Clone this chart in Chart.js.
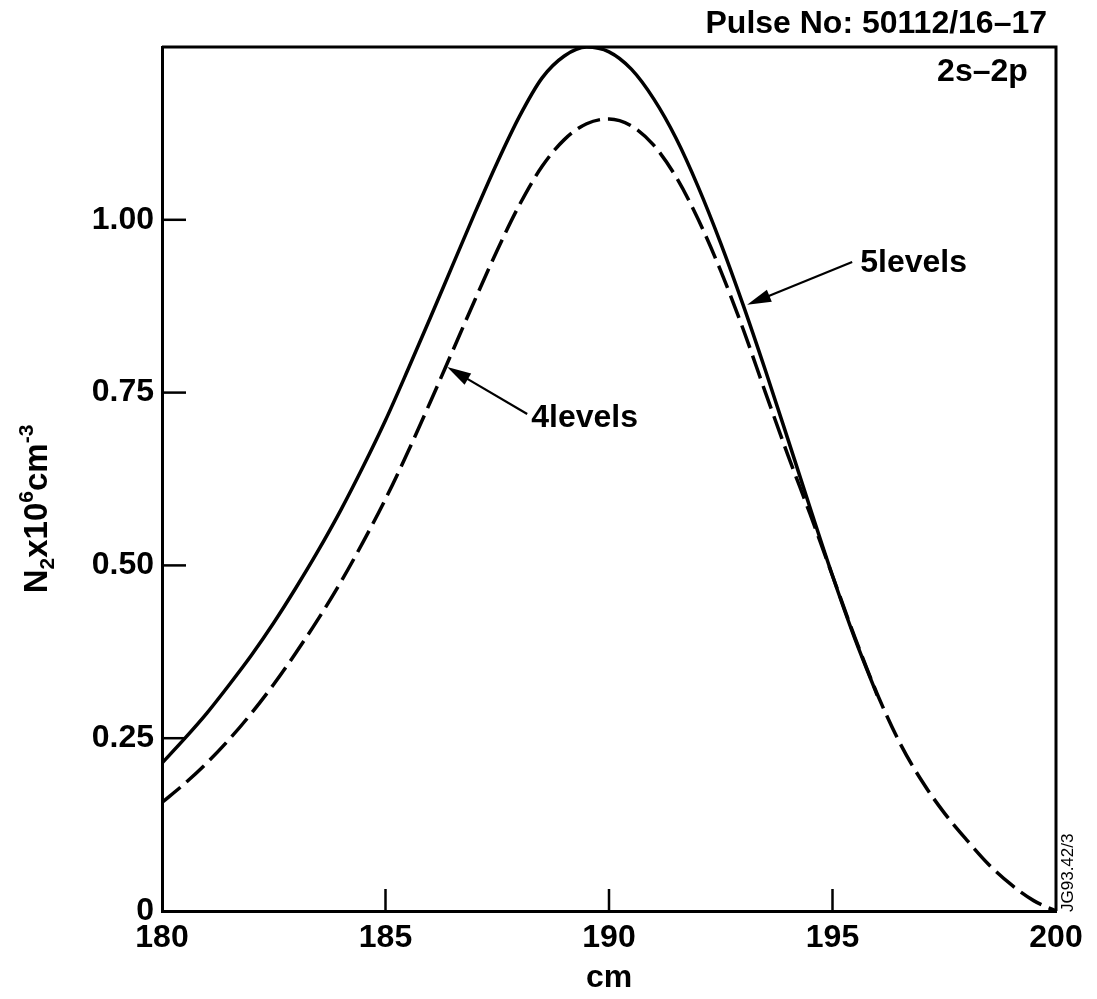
<html>
<head>
  <title>N2 density profile - 2s-2p</title>
  <script src="https://cdn.jsdelivr.net/npm/chart.js"></script>
  <style>
    body { margin: 0; background: #fff; }
    #wrap { width: 1097px; height: 999px; }
  </style>
</head>
<body>
  <div id="wrap"><canvas id="profileChart" width="1097" height="999"></canvas></div>
  <script>
    // radius (cm) and N2 density (10^6 cm^-3)
    const positions = [180, 180.5, 181, 181.5, 182, 182.5, 183, 183.5, 184, 184.5, 185, 185.5, 186, 186.5,
      187, 187.5, 188, 188.5, 189, 189.5, 190, 190.5, 191, 191.5, 192, 192.5, 193, 193.5, 194, 194.5,
      195, 195.5, 196, 196.5, 197, 197.5, 198, 198.5, 199, 199.5, 200];
    // the solid curve is hidden under the dashed one past 196 cm
    const fiveLevels = [0.214, 0.249, 0.286, 0.327, 0.370, 0.417, 0.468, 0.522, 0.580, 0.643, 0.710, 0.783, 0.858, 0.934,
      1.010, 1.083, 1.150, 1.205, 1.237, 1.250, 1.243, 1.218, 1.175, 1.118, 1.047, 0.966, 0.877, 0.782, 0.683, 0.583,
      0.485, 0.394, 0.312, null, null, null, null, null, null, null, null];
    const fourLevels = [0.157, 0.184, 0.214, 0.248, 0.286, 0.328, 0.374, 0.423, 0.476, 0.534, 0.596, 0.664, 0.736, 0.810,
      0.884, 0.956, 1.022, 1.077, 1.116, 1.139, 1.146, 1.136, 1.108, 1.062, 1.000, 0.926, 0.842, 0.750, 0.660, 0.574,
      0.485, 0.396, 0.314, 0.244, 0.188, 0.142, 0.103, 0.067, 0.038, 0.015, 0.0];
    const xTicks = [180, 185, 190, 195, 200];
    const yTicks = [0, 0.25, 0.5, 0.75, 1.0];
    const yTickLabels = ['0', '0.25', '0.50', '0.75', '1.00'];

    const FONT = "'Liberation Sans', Arial, Helvetica, sans-serif";

    function arrow(ctx, x1, y1, x2, y2) {
      const a = Math.atan2(y2 - y1, x2 - x1);
      const c = Math.cos(a), s = Math.sin(a);
      ctx.beginPath();
      ctx.moveTo(x1, y1);
      ctx.lineTo(x2 - 16 * c, y2 - 16 * s);
      ctx.stroke();
      ctx.beginPath();
      ctx.moveTo(x2, y2);
      ctx.lineTo(x2 - 24 * c + 6.5 * s, y2 - 24 * s - 6.5 * c);
      ctx.lineTo(x2 - 24 * c - 6.5 * s, y2 - 24 * s + 6.5 * c);
      ctx.closePath();
      ctx.fill();
    }

    // pieces of the y title: text, font size, baseline shift
    const yTitle = [['N', 33, 0], ['2', 21, 7], ['x10', 33, 0], ['6', 21, -14], ['cm', 33, 0], ['-3', 21, -14]];

    const decorations = {
      id: 'decorations',
      afterDraw(chart) {
        const { ctx, chartArea: a, scales: { x, y } } = chart;
        ctx.save();
        ctx.strokeStyle = '#000';
        ctx.fillStyle = '#000';

        // top and right frame
        ctx.lineWidth = 3;
        ctx.beginPath();
        ctx.moveTo(a.left, a.top);
        ctx.lineTo(a.right, a.top);
        ctx.lineTo(a.right, a.bottom);
        ctx.stroke();

        // ticks point inward
        ctx.lineWidth = 2.5;
        yTicks.forEach(v => {
          if (v === 0) return;
          const py = y.getPixelForValue(v);
          ctx.beginPath();
          ctx.moveTo(a.left, py);
          ctx.lineTo(a.left + 24, py);
          ctx.stroke();
        });
        xTicks.forEach(v => {
          if (v === 180 || v === 200) return;
          const px = x.getPixelForValue(v);
          ctx.beginPath();
          ctx.moveTo(px, a.bottom);
          ctx.lineTo(px, a.bottom - 22);
          ctx.stroke();
        });

        // header texts
        ctx.font = `bold 32px ${FONT}`;
        ctx.textBaseline = 'alphabetic';
        ctx.textAlign = 'right';
        ctx.fillText('Pulse No: 50112/16–17', x.getPixelForValue(199.8), y.getPixelForValue(1.270));
        ctx.fillText('2s–2p', x.getPixelForValue(199.37), y.getPixelForValue(1.201));

        // curve labels with arrows
        ctx.textAlign = 'left';
        ctx.fillText('5levels', x.getPixelForValue(195.62), y.getPixelForValue(0.925));
        ctx.fillText('4levels', x.getPixelForValue(188.26), y.getPixelForValue(0.700));
        ctx.lineWidth = 2.2;
        arrow(ctx, x.getPixelForValue(195.44), y.getPixelForValue(0.939), x.getPixelForValue(193.09), y.getPixelForValue(0.877));
        arrow(ctx, x.getPixelForValue(188.17), y.getPixelForValue(0.719), x.getPixelForValue(186.38), y.getPixelForValue(0.787));

        // figure reference, vertical
        ctx.save();
        ctx.translate(a.right + 17, a.bottom + 1);
        ctx.rotate(-Math.PI / 2);
        ctx.font = `17px ${FONT}`;
        ctx.fillText('JG93.42/3', 0, 0);
        ctx.restore();

        // y title with sub/superscripts
        ctx.save();
        let total = 0;
        yTitle.forEach(([t, size]) => { ctx.font = `bold ${size}px ${FONT}`; total += ctx.measureText(t).width; });
        ctx.translate(47, (a.top + a.bottom) / 2 + 30 + total / 2);
        ctx.rotate(-Math.PI / 2);
        let cx = 0;
        yTitle.forEach(([t, size, shift]) => {
          ctx.font = `bold ${size}px ${FONT}`;
          ctx.fillText(t, cx, shift);
          cx += ctx.measureText(t).width;
        });
        ctx.restore();

        ctx.restore();
      }
    };

    const ctx = document.getElementById('profileChart').getContext('2d');
    new Chart(ctx, {
      type: 'line',
      data: {
        datasets: [
          {
            label: '5levels',
            data: positions.map((p, i) => ({ x: p, y: fiveLevels[i] })),
            borderColor: '#000',
            borderWidth: 3.5,
            pointRadius: 0,
            cubicInterpolationMode: 'monotone',
            spanGaps: false,
            fill: false
          },
          {
            label: '4levels',
            data: positions.map((p, i) => ({ x: p, y: fourLevels[i] })),
            borderColor: '#000',
            borderWidth: 3.5,
            borderDash: [24, 8],
            pointRadius: 0,
            cubicInterpolationMode: 'monotone',
            fill: false
          }
        ]
      },
      options: {
        responsive: false,
        animation: false,
        layout: { padding: { top: 47, right: 41, left: 0, bottom: 0 } },
        plugins: { legend: { display: false }, tooltip: { enabled: false } },
        scales: {
          x: {
            type: 'linear',
            min: 180,
            max: 200,
            afterBuildTicks: s => { s.ticks = xTicks.map(v => ({ value: v })); },
            afterFit: s => { s.height = 88; },
            grid: { display: false, drawTicks: false },
            border: { display: true, color: '#000', width: 3 },
            ticks: { color: '#000', font: { family: FONT, size: 32, weight: 'bold' }, padding: 8, maxRotation: 0 },
            title: { display: true, text: 'cm', color: '#000', font: { family: FONT, size: 32, weight: 'bold' }, padding: { top: 0, bottom: 2 } }
          },
          y: {
            type: 'linear',
            min: 0,
            max: 1.25,
            afterBuildTicks: s => { s.ticks = yTicks.map(v => ({ value: v })); },
            afterFit: s => { s.width = 162; },
            grid: { display: false, drawTicks: false },
            border: { display: true, color: '#000', width: 3 },
            ticks: {
              color: '#000',
              font: { family: FONT, size: 32, weight: 'bold' },
              padding: 8,
              callback: v => yTickLabels[yTicks.indexOf(v)]
            }
          }
        }
      },
      plugins: [decorations]
    });
  </script>
</body>
</html>
